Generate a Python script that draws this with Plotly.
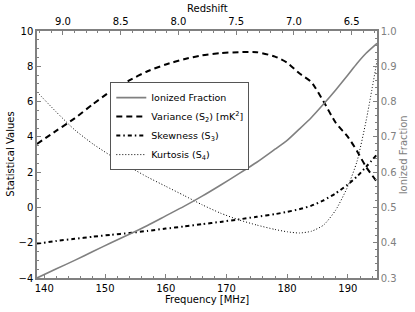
import plotly.graph_objects as go

freq = [138.8, 142, 145, 148, 151, 154, 157, 160, 163, 166, 169, 172, 175, 178,
        180, 182, 184, 186, 188, 190, 191.5, 193, 194.8]
ionized = [0.300, 0.326, 0.350, 0.375, 0.400, 0.424, 0.449, 0.476, 0.503, 0.532,
           0.563, 0.595, 0.628, 0.665, 0.690, 0.722, 0.755, 0.793, 0.833, 0.875,
           0.908, 0.937, 0.965]
variance = [3.6, 4.35, 5.05, 5.85, 6.6, 7.2, 7.72, 8.1, 8.4, 8.62, 8.75, 8.8, 8.8,
            8.55, 8.2, 7.6, 7.1, 6.0, 4.8, 4.0, 3.2, 2.3, 1.45]
skewness = [-2.05, -1.9, -1.78, -1.66, -1.55, -1.45, -1.33, -1.2, -1.08, -0.95,
            -0.82, -0.68, -0.53, -0.38, -0.25, -0.1, 0.1, 0.4, 0.8, 1.3, 1.75, 2.3, 3.0]
kurtosis = [6.55, 5.4, 4.4, 3.6, 2.92, 2.3, 1.72, 1.2, 0.68, 0.15, -0.32, -0.7,
            -1.0, -1.25, -1.38, -1.45, -1.35, -1.0, -0.15, 1.2, 2.6, 4.9, 8.3]

freq_range = [138.8, 194.8]
z_range = [9.225, 6.28]

GREY = "#808080"
FONT = "DejaVu Sans"

fig = go.Figure()
fig.add_trace(go.Scatter(x=freq, y=ionized, yaxis="y2", mode="lines", name="Ionized Fraction",
                         line=dict(color=GREY, width=1.6, shape="spline", smoothing=0.6)))
fig.add_trace(go.Scatter(x=freq, y=variance, mode="lines", name="Variance (S<sub>2</sub>) [mK<sup>2</sup>]",
                         line=dict(color="black", width=2, dash="6px,4px", shape="spline", smoothing=0.6)))
fig.add_trace(go.Scatter(x=freq, y=skewness, mode="lines", name="Skewness (S<sub>3</sub>)",
                         line=dict(color="black", width=2, dash="4px,3px,1.5px,3px", shape="spline", smoothing=0.6)))
fig.add_trace(go.Scatter(x=freq, y=kurtosis, mode="lines", name="Kurtosis (S<sub>4</sub>)",
                         line=dict(color="black", width=1, dash="1px,2px", shape="spline", smoothing=0.6)))
fig.add_trace(go.Scatter(x=z_range, y=[None, None], xaxis="x2", mode="lines",
                         showlegend=False, hoverinfo="skip"))

axis_common = dict(showgrid=False, zeroline=False, showline=True, linecolor=GREY, linewidth=1.5,
                   ticks="inside", ticklen=4, tickcolor=GREY, tickwidth=1, automargin=False,
                   tickfont=dict(family=FONT, size=10, color="black"))

fig.update_layout(
    width=415, height=312,
    margin=dict(l=37, r=38, t=31, b=34),
    paper_bgcolor="white", plot_bgcolor="white",
    font=dict(family=FONT, size=10, color="black"),
    xaxis=dict(range=freq_range, dtick=10, tick0=140,
               minor=dict(ticks="inside", ticklen=2, dtick=2, tick0=140, tickcolor=GREY),
               **axis_common),
    xaxis2=dict(range=z_range, overlaying="x", side="top", dtick=0.5, tick0=6.5,
                tickformat=".1f",
                minor=dict(ticks="inside", ticklen=2, dtick=0.1, tick0=6.5, tickcolor=GREY),
                **axis_common),
    yaxis=dict(range=[-4, 10], dtick=2, tick0=-4,
               minor=dict(ticks="inside", ticklen=2, dtick=0.5, tickcolor=GREY),
               **axis_common),
    yaxis2=dict(range=[0.3, 1.0], overlaying="y", side="right", dtick=0.1, tick0=0.3,
                tickformat=".1f", automargin=False,
                showgrid=False, zeroline=False, showline=True, linecolor=GREY, linewidth=1.5,
                ticks="inside", ticklen=4, tickcolor=GREY,
                minor=dict(ticks="inside", ticklen=2, dtick=0.02, tickcolor=GREY),
                tickfont=dict(family=FONT, size=10, color=GREY)),
    legend=dict(x=0.42, y=0.615, xanchor="center", yanchor="middle",
                bordercolor="#555555", borderwidth=1, bgcolor="white",
                font=dict(family=FONT, size=9.5), tracegroupgap=0, itemwidth=30),
    showlegend=True,
    annotations=[
        dict(text="Frequency [MHz]", xref="paper", yref="paper", x=0.5, y=-0.089,
             showarrow=False, xanchor="center", yanchor="middle", font=dict(size=10)),
        dict(text="Redshift", xref="paper", yref="paper", x=0.5, y=1.093,
             showarrow=False, xanchor="center", yanchor="middle", font=dict(size=10)),
        dict(text="Statistical Values", xref="paper", yref="paper", x=-0.079, y=0.5,
             showarrow=False, xanchor="center", yanchor="middle", textangle=-90,
             font=dict(size=10)),
        dict(text="Ionized Fraction", xref="paper", yref="paper", x=1.079, y=0.5,
             showarrow=False, xanchor="center", yanchor="middle", textangle=-90,
             font=dict(size=10, color=GREY)),
    ],
)

fig.write_html("out.html", config={"displayModeBar": False},
               post_script="document.body.style.margin='0px';")
